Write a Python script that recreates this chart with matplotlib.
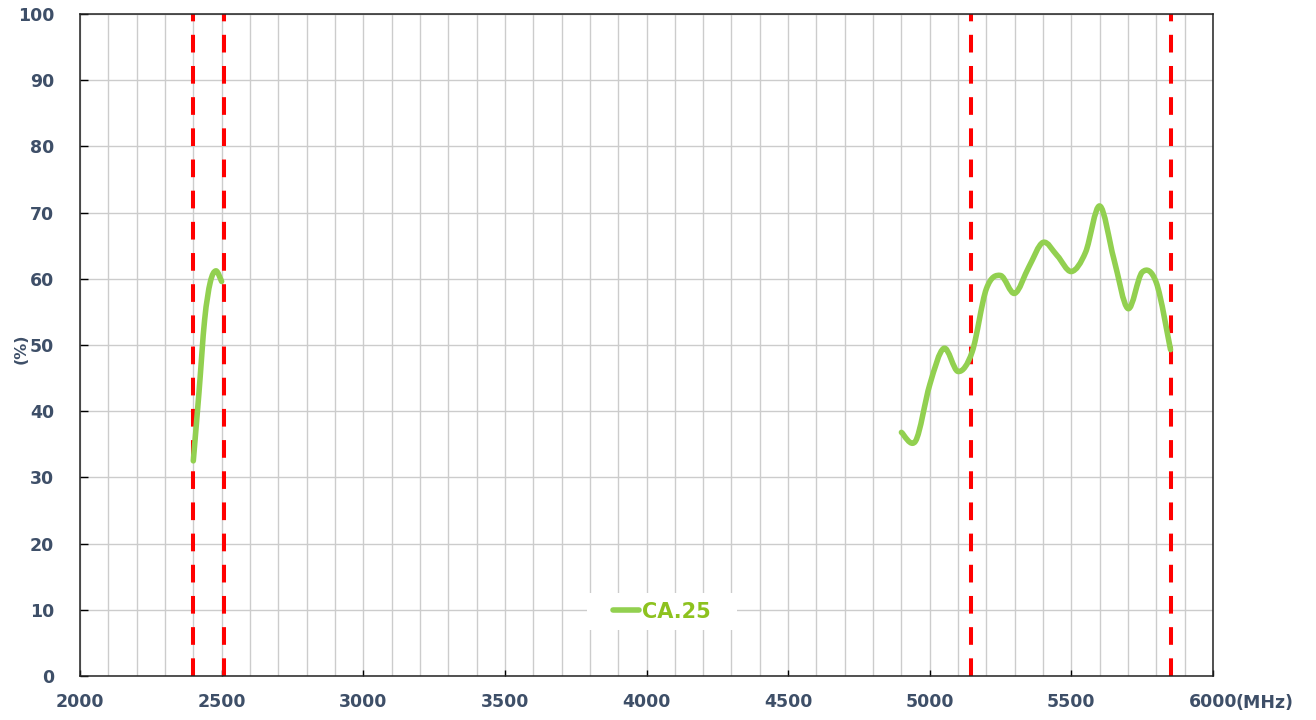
import numpy as np
import matplotlib
matplotlib.use("Agg")
import matplotlib.pyplot as plt
from matplotlib.path import Path
from matplotlib.patches import PathPatch, Rectangle
from matplotlib.lines import Line2D
from matplotlib.ticker import MultipleLocator

# data (efficiency in %, frequency in MHz)
freq_2g = [2400, 2420, 2440, 2460, 2480, 2500]
eff_2g = [32.5, 42.8, 53.8, 59.5, 61.2, 59.6]

freq_5g = [4900, 4950, 5000, 5050, 5100, 5150, 5200, 5250, 5300, 5350,
           5400, 5450, 5500, 5550, 5600, 5650, 5700, 5750, 5800, 5850]
eff_5g = [36.8, 35.5, 44.0, 49.5, 46.0, 49.0, 58.5, 60.5, 57.8, 61.8,
          65.5, 63.5, 61.1, 64.0, 71.0, 63.0, 55.5, 61.0, 59.4, 49.3]

band_edges = [2400, 2508, 5147, 5852]
series_name = "CA.25"

text_color = "#3E4F68"
green = "#92D050"
plt.rcParams['font.family'] = ['DejaVu Sans']


def smooth_path(xs, ys):
    # Excel-style smoothed line: cubic bezier through every point
    pts = np.column_stack([xs, ys]).astype(float)
    ext = np.vstack([pts[0], pts, pts[-1]])
    verts = [pts[0]]
    codes = [Path.MOVETO]
    for i in range(1, len(ext) - 2):
        p0, p1, p2, p3 = ext[i - 1], ext[i], ext[i + 1], ext[i + 2]
        c1 = p1 + (p2 - p0) / 6.0
        c2 = p2 - (p3 - p1) / 6.0
        verts += [c1, c2, p2]
        codes += [Path.CURVE4] * 3
    return Path(verts, codes)


fig = plt.figure(figsize=(13.16, 7.2), dpi=100)
ax = fig.add_axes([80 / 1316, 1 - 676 / 720, 1133 / 1316, 662 / 720])

ax.set_xlim(2000, 6000)
ax.set_ylim(0, 100)
ax.xaxis.set_major_locator(MultipleLocator(500))
ax.xaxis.set_minor_locator(MultipleLocator(100))
ax.yaxis.set_major_locator(MultipleLocator(10))
ax.grid(True, which='both', color='#CCCCCC', linewidth=1.0, zorder=0)
ax.set_axisbelow(True)

for x in band_edges:
    ax.axvline(x, color='#FF0000', linewidth=2.9,
               linestyle=(0, (4.39, 3.35)), zorder=2)

for xs, ys in [(freq_2g, eff_2g), (freq_5g, eff_5g)]:
    patch = PathPatch(smooth_path(xs, ys), facecolor='none', edgecolor=green,
                      linewidth=4.0, capstyle='round', joinstyle='round', zorder=3)
    ax.add_patch(patch)

for s in ax.spines.values():
    s.set_color('#222222')
    s.set_linewidth(1.1)

ax.tick_params(axis='x', which='major', direction='in', length=4, width=1,
               pad=12, labelsize=12.5, labelcolor=text_color)
ax.tick_params(axis='x', which='minor', length=0)
ax.tick_params(axis='y', which='major', direction='in', length=5.5, width=1,
               pad=18.5, labelsize=12.5, labelcolor=text_color)
for lab in ax.get_xticklabels() + ax.get_yticklabels():
    lab.set_fontweight('bold')

ax.text(-0.052, 0.495, "(%)", transform=ax.transAxes, rotation=90,
        ha='center', va='center', fontsize=11.5, fontweight='bold', color=text_color)

ax.annotate("(MHz)", xy=(1, 0), xycoords='axes fraction', xytext=(16.5, -19.2),
            textcoords='offset points', ha='left', va='center',
            fontsize=12.5, fontweight='bold', color=text_color)

# white box behind the legend
ax.add_patch(Rectangle((0.4475, 0.0695), 0.1324, 0.0559, transform=ax.transAxes,
                       facecolor='white', edgecolor='none', zorder=1))

handle = Line2D([], [], color=green, linewidth=4.0, solid_capstyle='round')
leg = ax.legend([handle], [series_name], loc='center', bbox_to_anchor=(0.5137, 0.0974),
                frameon=False, handlelength=1.25, handletextpad=0.12,
                borderpad=0.2, prop={'weight': 'bold', 'size': 15})
for t in leg.get_texts():
    t.set_color('#8DC21F')

fig.savefig("out.png", dpi=100)
